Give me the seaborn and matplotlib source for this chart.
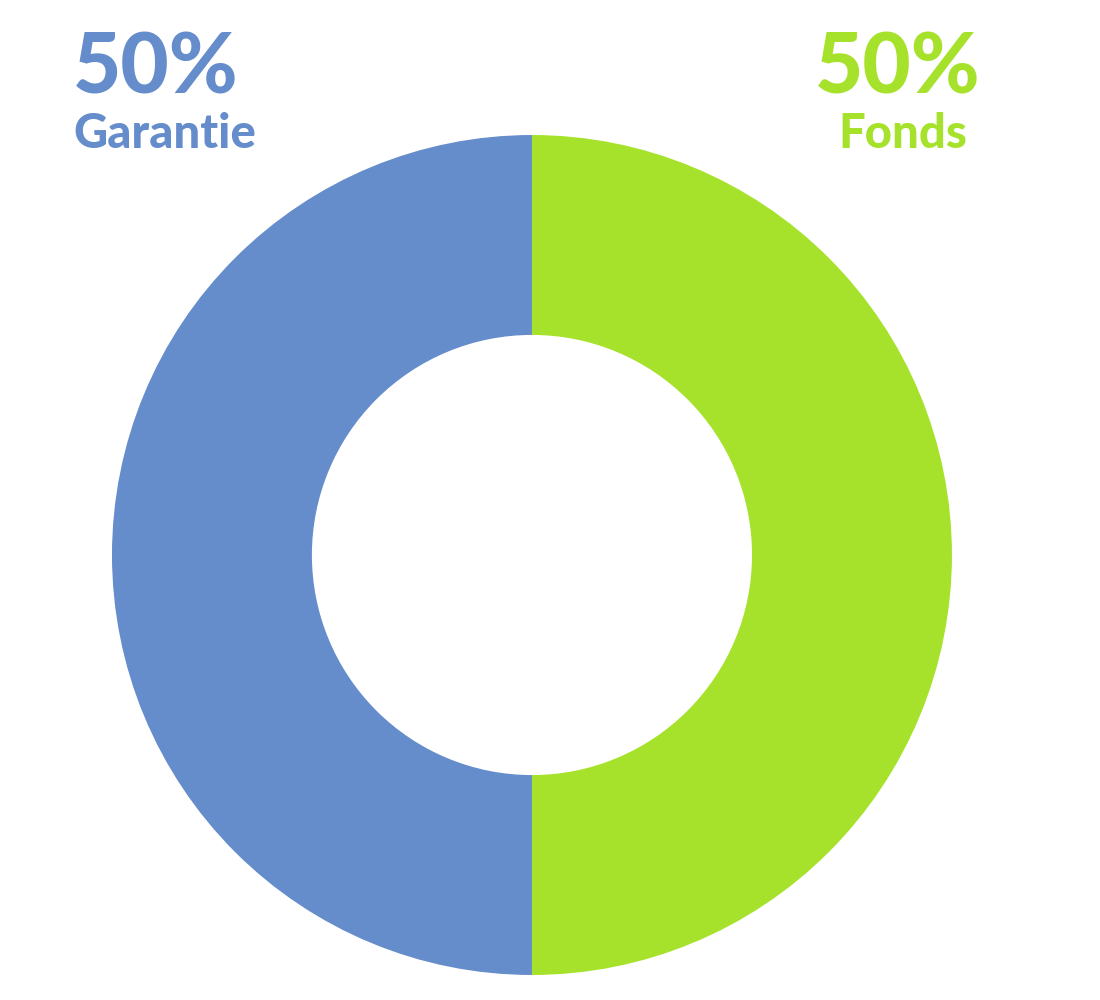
import matplotlib.pyplot as plt
import seaborn as sns

labels = ['Garantie', 'Fonds']
shares = [50, 50]
colors = ['#658ccb', '#a6e22b']

sns.set_theme(style='white')
plt.rcParams['font.family'] = ['Lato', 'DejaVu Sans']

fig = plt.figure(figsize=(11, 10), dpi=100)
ax = fig.add_axes([0.1018, 0.025, 0.7636, 0.84])

# donut, blue half on the left
ax.pie(shares, colors=colors, startangle=90, counterclock=True,
       wedgeprops=dict(width=0.476, linewidth=0))
ax.set_xlim(-1, 1)
ax.set_ylim(-1, 1)
ax.set_aspect('equal')
ax.axis('off')

# corner labels
fig.text(0.066, 0.907, f'{shares[0]}%', color=colors[0], fontsize=60,
         fontweight='black', ha='left', va='baseline')
fig.text(0.067, 0.852, labels[0], color=colors[0], fontsize=34,
         fontweight='black', ha='left', va='baseline')
fig.text(0.891, 0.907, f'{shares[1]}%', color=colors[1], fontsize=60,
         fontweight='black', ha='right', va='baseline')
fig.text(0.879, 0.852, labels[1], color=colors[1], fontsize=34,
         fontweight='black', ha='right', va='baseline')

fig.savefig('out.png', dpi=100)
